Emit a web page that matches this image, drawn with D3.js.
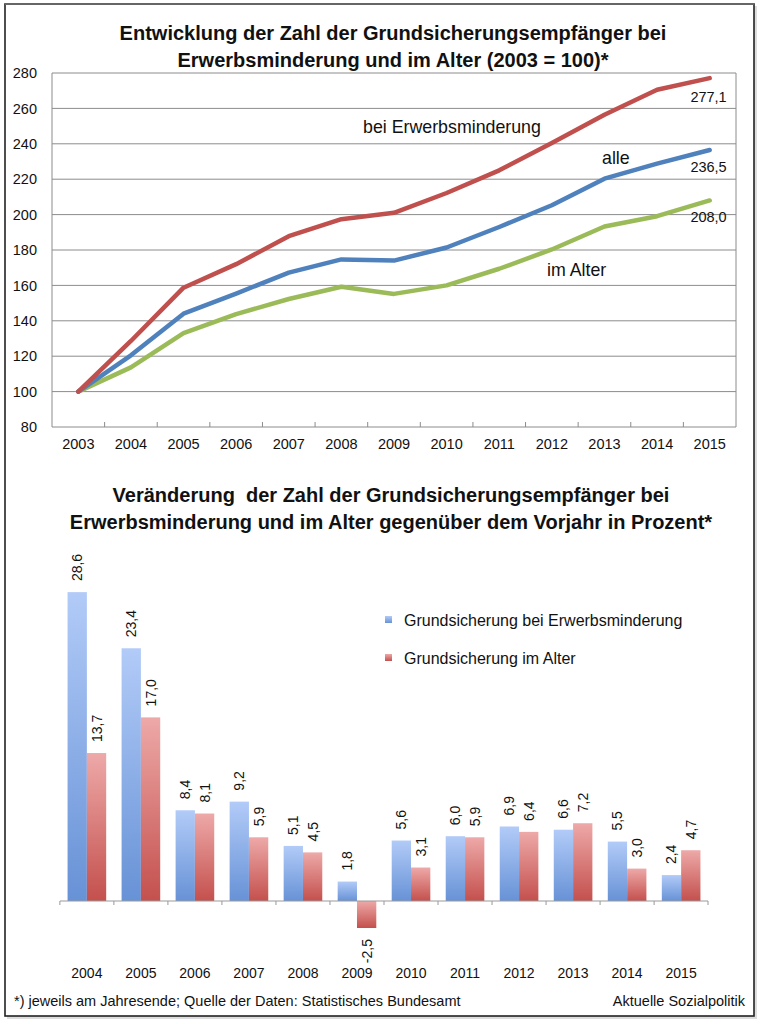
<!DOCTYPE html>
<html><head><meta charset="utf-8">
<script src="https://cdn.jsdelivr.net/npm/d3@7"></script>
<style>body{margin:0;background:#fff;}svg{display:block;font-family:"Liberation Sans",Arial,sans-serif;}</style>
</head><body>
<script>
// ---- data ----
const years = ["2003","2004","2005","2006","2007","2008","2009","2010","2011","2012","2013","2014","2015"];
const erwerb = [100,128.6,158.7,172.0,187.8,197.4,201.0,212.2,225.0,240.5,256.4,270.5,277.1];
const alle   = [100,120.5,144.0,155.4,167.2,174.7,174.0,181.4,193.0,205.3,220.3,228.8,236.5];
const alter  = [100,113.7,133.0,143.8,152.3,159.2,155.2,160.0,169.4,180.3,193.3,199.1,208.0];
const yTicks = [80,100,120,140,160,180,200,220,240,260,280];
const endLabels = ["277,1","236,5","208,0"];
const barYears = ["2004","2005","2006","2007","2008","2009","2010","2011","2012","2013","2014","2015"];
const barErwerb = [28.6,23.4,8.4,9.2,5.1,1.8,5.6,6.0,6.9,6.6,5.5,2.4];
const barAlter  = [13.7,17.0,8.1,5.9,4.5,-2.5,3.1,5.9,6.4,7.2,3.0,4.7];
const legendLabels = ["Grundsicherung bei Erwerbsminderung","Grundsicherung im Alter"];

const W=760,H=1024;
const FF="Liberation Sans, Arial, sans-serif";
const svg=d3.select("body").append("svg").attr("width",W).attr("height",H);
const defs=svg.append("defs");

// frame
svg.append("rect").attr("x",7).attr("y",6).attr("width",750).attr("height",1013).attr("fill","#ddd");
svg.append("rect").attr("x",5).attr("y",4).attr("width",749).attr("height",1012).attr("fill","#fff").attr("stroke","#222").attr("stroke-width",1.6);
svg.append("line").attr("x1",5).attr("x2",754).attr("y1",4).attr("y2",4).attr("stroke","#666").attr("stroke-width",2);

const fmt = v => v.toFixed(1).replace(".",",");

// ---- top chart ----
const title1=["Entwicklung der Zahl der Grundsicherungsempfänger bei","Erwerbsminderung und im Alter (2003 = 100)*"];
title1.forEach((t,i)=>svg.append("text").attr("x",393).attr("y",40+i*27).attr("text-anchor","middle")
  .attr("font-weight","bold").attr("font-size",20).attr("fill","#111").text(t));

const px0=52,px1=736,py0=73,py1=427;
const x=d3.scaleBand().domain(years).range([px0,px1]);
const y=d3.scaleLinear().domain([80,280]).range([py1,py0]);
const g=svg.append("g");
g.selectAll(".grid").data(yTicks).join("line").attr("x1",px0).attr("x2",px1)
  .attr("y1",d=>y(d)).attr("y2",d=>y(d)).attr("stroke","#8c8c8c").attr("stroke-width",1);
g.append("line").attr("x1",px0).attr("x2",px0).attr("y1",py0).attr("y2",py1).attr("stroke","#8c8c8c");
g.append("line").attr("x1",px1).attr("x2",px1).attr("y1",py0).attr("y2",py1).attr("stroke","#8c8c8c");
const yAxis=g.append("g").attr("transform",`translate(${px0-12},0)`).call(d3.axisLeft(y).tickValues(yTicks).tickSize(0).tickFormat(d3.format("d")));
yAxis.select(".domain").remove();
yAxis.selectAll("text").attr("font-size",14.5).attr("fill","#111").attr("font-family",FF);
// boundary ticks
g.selectAll(".xt").data(years.slice(1)).join("line").attr("x1",d=>x(d)).attr("x2",d=>x(d))
  .attr("y1",py1).attr("y2",py1-5).attr("stroke","#8c8c8c");
const xAxis=g.append("g").attr("transform",`translate(0,${py1})`).call(d3.axisBottom(x).tickSize(0).tickPadding(12));
xAxis.select(".domain").remove();
xAxis.selectAll("text").attr("font-size",14.5).attr("fill","#111").attr("font-family",FF);

const line=d3.line().x((d,i)=>x(years[i])+x.bandwidth()/2).y(d=>y(d));
[[alter,"#9BBB59"],[alle,"#4F81BD"],[erwerb,"#C0504D"]].forEach(([s,c])=>{
  g.append("path").datum(s).attr("d",line).attr("fill","none").attr("stroke",c).attr("stroke-width",4.5).attr("stroke-linejoin","round").attr("stroke-linecap","round");
});
const lastX=x(years[12])+x.bandwidth()/2;
[[erwerb,endLabels[0],24],[alle,endLabels[1],22],[alter,endLabels[2],22]].forEach(([s,t,dy])=>{
  g.append("text").attr("x",lastX+17).attr("y",y(s[12])+dy).attr("text-anchor","end").attr("font-size",14.5).attr("fill","#111").text(t);
});
g.append("text").attr("x",363).attr("y",y(220)-46).attr("font-size",17.8).attr("fill","#111").text("bei Erwerbsminderung");
g.append("text").attr("x",602).attr("y",y(220)-15).attr("font-size",17.8).attr("fill","#111").text("alle");
g.append("text").attr("x",547).attr("y",y(160)-9).attr("font-size",17.8).attr("fill","#111").text("im Alter");

// ---- bottom chart ----
const title2=["Veränderung\u00a0 der Zahl der Grundsicherungsempfänger bei","Erwerbsminderung und im Alter gegenüber dem Vorjahr in Prozent*"];
title2.forEach((t,i)=>svg.append("text").attr("x",391).attr("y",502+i*27).attr("text-anchor","middle")
  .attr("font-weight","bold").attr("font-size",20).attr("fill","#111").text(t));

const bx0=60,bx1=708;
const bx=d3.scaleBand().domain(barYears).range([bx0,bx1]).paddingInner(0.285).paddingOuter(0.14);
const sub=d3.scaleBand().domain([0,1]).range([0,bx.bandwidth()]);
const by=d3.scaleLinear().domain([-10,30]).range([901+108,901-324]);
const gradB=defs.append("linearGradient").attr("id","gb").attr("x1",0).attr("x2",0).attr("y1",0).attr("y2",1);
gradB.append("stop").attr("offset","0%").attr("stop-color","#B2CBF8");
gradB.append("stop").attr("offset","100%").attr("stop-color","#6792D6");
const gradR=defs.append("linearGradient").attr("id","gr").attr("x1",0).attr("x2",0).attr("y1",0).attr("y2",1);
gradR.append("stop").attr("offset","0%").attr("stop-color","#EDA9A8");
gradR.append("stop").attr("offset","100%").attr("stop-color","#C4504D");
const bg=svg.append("g");
[[barErwerb,"url(#gb)",0],[barAlter,"url(#gr)",1]].forEach(([s,fill,k])=>{
  bg.selectAll(".b"+k).data(s).join("rect")
    .attr("x",(d,i)=>bx(barYears[i])+sub(k)).attr("width",sub.bandwidth())
    .attr("y",d=>by(Math.max(0,d))).attr("height",d=>Math.abs(by(d)-by(0))).attr("fill",fill);
  bg.selectAll(".l"+k).data(s).join("text")
    .attr("transform",(d,i)=>{const cx=bx(barYears[i])+sub(k)+sub.bandwidth()/2+5;
      const yy=d>=0?by(d)-11:by(d)+11; return `translate(${cx},${yy}) rotate(-90)`;})
    .attr("text-anchor",d=>d>=0?"start":"end").attr("font-size",14).attr("fill","#111").text(d=>fmt(d));
});
bg.append("line").attr("x1",bx0).attr("x2",bx1).attr("y1",by(0)).attr("y2",by(0)).attr("stroke","#999").attr("stroke-width",1.2);
const bounds=barYears.map(d=>bx(d)-bx.step()*bx.paddingInner()/2).concat([bx1]);
bg.selectAll(".bt").data(bounds).join("line").attr("x1",d=>d).attr("x2",d=>d).attr("y1",by(0)).attr("y2",by(0)+4).attr("stroke","#999");
bg.selectAll(".yl").data(barYears).join("text").attr("x",d=>bx(d)+bx.bandwidth()/2).attr("y",978)
  .attr("text-anchor","middle").attr("font-size",14).attr("fill","#111").text(d=>d);

// legend
const lg=svg.append("g");
legendLabels.forEach((t,i)=>{
  lg.append("rect").attr("x",385).attr("y",616+i*38).attr("width",7).attr("height",7).attr("fill",i?"url(#gr)":"url(#gb)");
  lg.append("text").attr("x",404).attr("y",626+i*38).attr("font-size",16).attr("fill","#111").text(t);
});

// footer
svg.append("text").attr("x",14).attr("y",1006).attr("font-size",14.5).attr("fill","#111").text("*) jeweils am Jahresende; Quelle der Daten: Statistisches Bundesamt");
svg.append("text").attr("x",745).attr("y",1006).attr("text-anchor","end").attr("font-size",14.5).attr("fill","#111").text("Aktuelle Sozialpolitik");
</script>
</body></html>
